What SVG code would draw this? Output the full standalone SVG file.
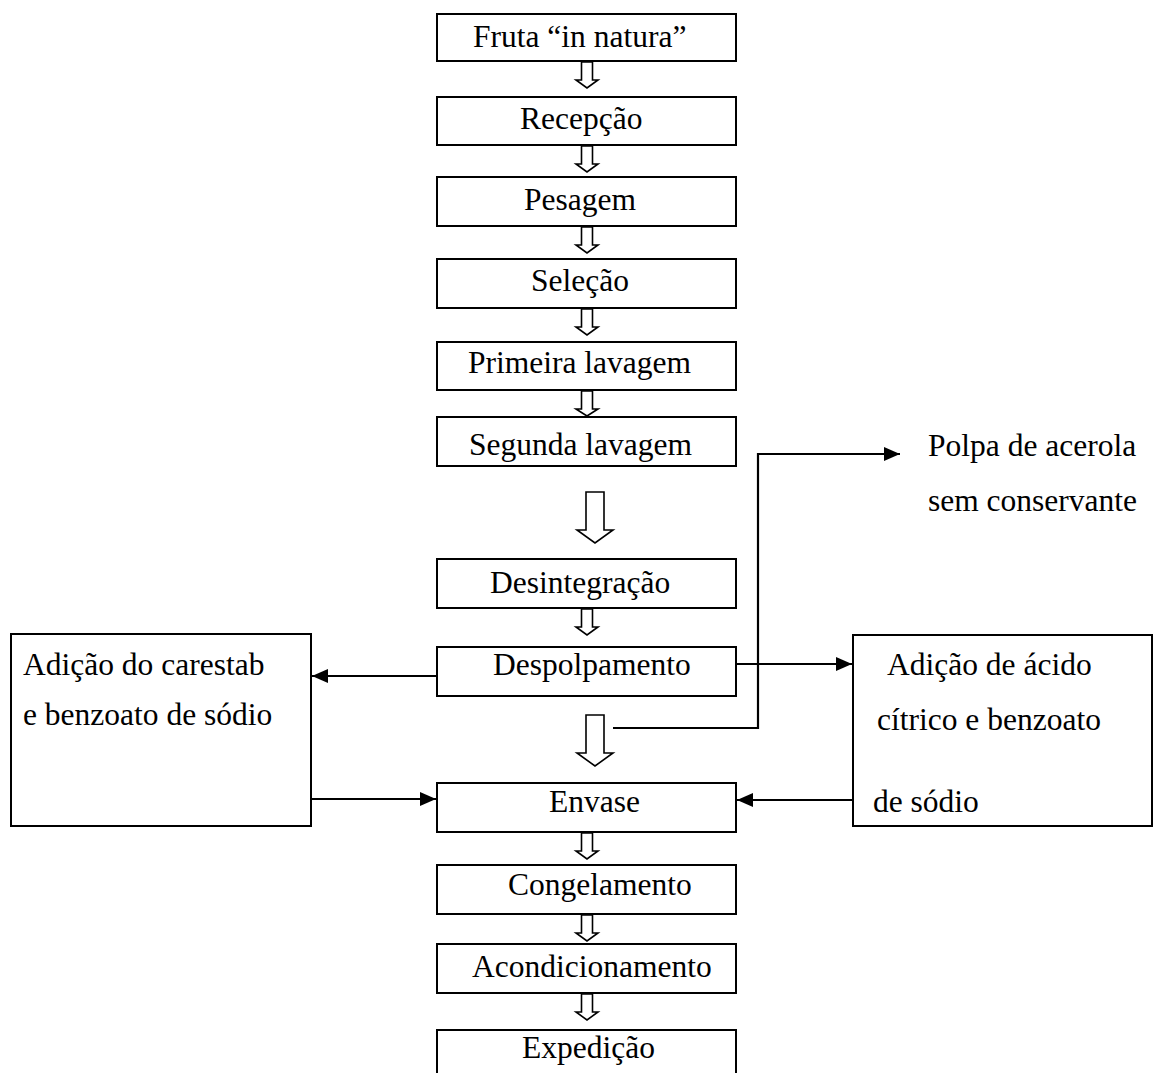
<svg xmlns="http://www.w3.org/2000/svg" width="1153" height="1073" viewBox="0 0 1153 1073">
<style>
.box{fill:#fff;stroke:#000;stroke-width:2}
.t{font-family:"Liberation Serif","Times New Roman",serif;font-size:31.5px;fill:#000}
.blk{fill:#fff;stroke:#000;stroke-width:1.6;stroke-linejoin:miter}
.ln{fill:none;stroke:#000;stroke-width:2.2}
</style>
<defs>
<marker id="ah" viewBox="0 0 16 14" refX="16" refY="7" markerWidth="16" markerHeight="14" markerUnits="userSpaceOnUse" orient="auto">
<path d="M0,0 L16,7 L0,14 Z" fill="#000"/>
</marker>
<path id="sa" d="M-5.5,0 V18 H-11 L0,26 L11,18 H5.5 V0 Z"/>
<path id="la" d="M-9,0 V38 H-18 L0,51 L18,38 H9 V0 Z"/>
</defs>
<rect width="1153" height="1073" fill="#fff"/>
<g id="n1"><rect class="box" x="437" y="14" width="299" height="47"/><text class="t" x="473" y="47">Fruta “in natura”</text></g>
<g id="n2"><rect class="box" x="437" y="97" width="299" height="48"/><text class="t" x="520" y="129">Recepção</text></g>
<g id="n3"><rect class="box" x="437" y="177" width="299" height="49"/><text class="t" x="524" y="210">Pesagem</text></g>
<g id="n4"><rect class="box" x="437" y="259" width="299" height="49"/><text class="t" x="531" y="291">Seleção</text></g>
<g id="n5"><rect class="box" x="437" y="342" width="299" height="48"/><text class="t" x="468" y="373">Primeira lavagem</text></g>
<g id="n6"><rect class="box" x="437" y="417" width="299" height="49"/><text class="t" x="469" y="455">Segunda lavagem</text></g>
<g id="n7"><rect class="box" x="437" y="559" width="299" height="49"/><text class="t" x="490" y="593">Desintegração</text></g>
<g id="n8"><rect class="box" x="437" y="647" width="299" height="49"/><text class="t" x="493" y="675">Despolpamento</text></g>
<g id="n9"><rect class="box" x="437" y="783" width="299" height="49"/><text class="t" x="549" y="812">Envase</text></g>
<g id="n10"><rect class="box" x="437" y="865" width="299" height="49"/><text class="t" x="508" y="895">Congelamento</text></g>
<g id="n11"><rect class="box" x="437" y="944" width="299" height="49"/><text class="t" x="472" y="977">Acondicionamento</text></g>
<g id="n12"><rect class="box" x="437" y="1030" width="299" height="50"/><text class="t" x="522" y="1058">Expedição</text></g>
<g id="n13"><rect class="box" x="11" y="634" width="300" height="192"/><text class="t" x="23" y="675">Adição do carestab</text><text class="t" x="23" y="725">e benzoato de sódio</text></g>
<g id="n14"><rect class="box" x="853" y="635" width="299" height="191"/><text class="t" x="887" y="675">Adição de ácido</text><text class="t" x="877" y="730">cítrico e benzoato</text><text class="t" x="873" y="812">de sódio</text></g>
<g id="n15"><text class="t" x="928" y="456">Polpa de acerola</text><text class="t" x="928" y="511">sem conservante</text></g>
<g id="connectors">
<use href="#sa" class="blk" x="587" y="62"/>
<use href="#sa" class="blk" x="587" y="146"/>
<use href="#sa" class="blk" x="587" y="227"/>
<use href="#sa" class="blk" x="587" y="309"/>
<path class="blk" d="M581.5,391 V409 H576 L587,416 L598,409 H592.5 V391 Z"/>
<use href="#sa" class="blk" x="587" y="609"/>
<use href="#sa" class="blk" x="587" y="833"/>
<use href="#sa" class="blk" x="587" y="915"/>
<use href="#sa" class="blk" x="587" y="994"/>
<use href="#la" class="blk" x="595" y="492"/>
<use href="#la" class="blk" x="595" y="715"/>
<path class="ln" d="M613,728 H758 V454 H900" marker-end="url(#ah)"/>
<path class="ln" d="M736,664 H852" marker-end="url(#ah)"/>
<path class="ln" d="M437,676 H312" marker-end="url(#ah)"/>
<path class="ln" d="M311,799 H436" marker-end="url(#ah)"/>
<path class="ln" d="M853,800 H737" marker-end="url(#ah)"/>
</g>
</svg>
